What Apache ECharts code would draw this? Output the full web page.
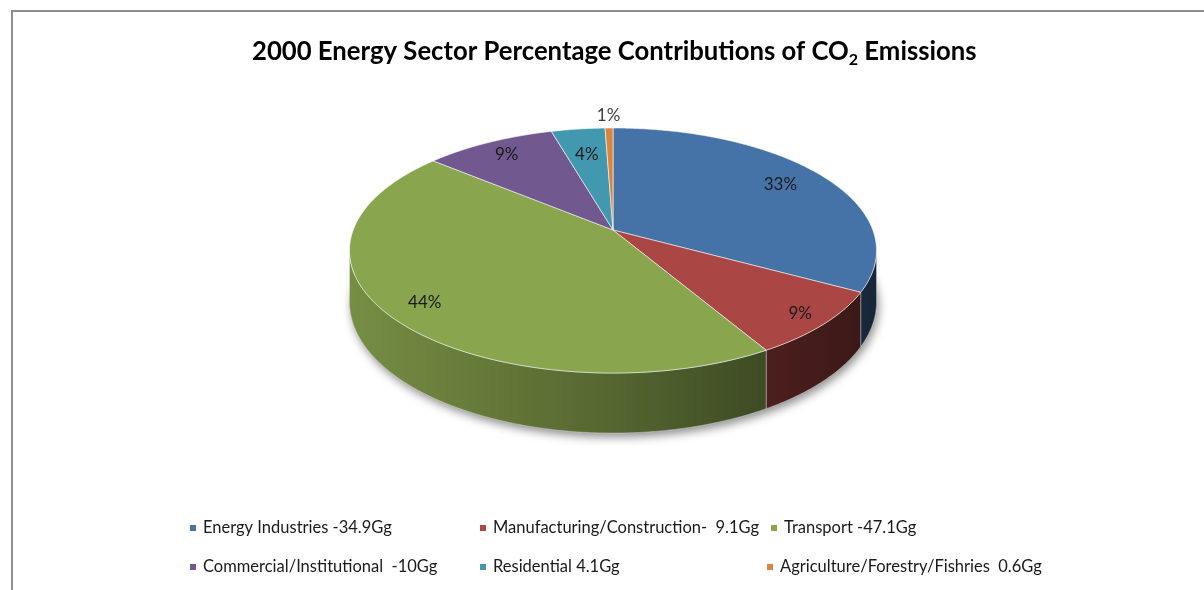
<!DOCTYPE html>
<html><head><meta charset="utf-8">
<script src="https://cdn.jsdelivr.net/npm/echarts@6/dist/echarts.min.js"></script>
<style>html,body{margin:0;padding:0;background:#fff}#c{width:1204px;height:590px}</style>
</head><body><div id="c"></div>
<script>
// ---- data ----
const categories = ['Energy Industries','Manufacturing/Construction','Transport','Commercial/Institutional','Residential','Agriculture/Forestry/Fishries'];
const valuesGg = [34.9, 9.1, 47.1, 10, 4.1, 0.6];
const percentLabels = ['33%','9%','44%','9%','4%','1%'];
const legendLabels = ['Energy Industries -34.9Gg','Manufacturing/Construction-  9.1Gg','Transport -47.1Gg','Commercial/Institutional  -10Gg','Residential 4.1Gg','Agriculture/Forestry/Fishries  0.6Gg'];
const colors = ['#4572A7','#AA4643','#89A54E','#71588F','#4198AF','#DB843D'];

// ---- layout ----
const FONT = 'Lato, "Open Sans", sans-serif';
const G = {cx:613, cy:230, A:259.8, B:119.1, k:0.1674, H:50};
const legendPos = [[190,518],[480,518],[771,518],[190,557],[480,557],[767,557]];
const labelRadius = [0.8, 0.9, 0.86, 0.84, 0.72, 1.15];
const total = valuesGg.reduce((a,b)=>a+b,0);

function proj(r, deg){
  const t = deg*Math.PI/180;
  const u = r*Math.sin(t), v = r*Math.cos(t);
  const d = 1 + G.k*v;
  return [G.cx + G.A*u/d, G.cy - G.B*v/d, 1/d];
}
function arc(a,b,bottom){
  const pts=[]; const n=Math.max(2,Math.ceil(Math.abs(b-a)/0.5));
  for(let i=0;i<=n;i++){const d=a+(b-a)*i/n; const p=proj(1,d); pts.push(bottom?[p[0],p[1]+G.H*p[2]]:[p[0],p[1]]);}
  return pts;
}
function shade(hex,f){
  const n=parseInt(hex.slice(1),16); const r=(n>>16)&255,g=(n>>8)&255,b=n&255;
  return 'rgb('+Math.round(r*f)+','+Math.round(g*f)+','+Math.round(b*f)+')';
}
const thL = Math.acos(-G.k)*180/Math.PI, thR = 360-thL;

function makeRender(i){
  return function(params, api){
    const v = api.value(0);
    let start=0; for(let j=0;j<i;j++) start+=valuesGg[j];
    const a0=start/total*360, a1=(start+v)/total*360;
    const children=[];
    if(i===0){
      const bot = arc(0,360,true);
      children.push({type:'polygon', z2:0, silent:true, shape:{points:bot},
        style:{fill:'#888', shadowColor:'rgba(0,0,0,0.45)', shadowBlur:10, shadowOffsetX:2, shadowOffsetY:4}});
    }
    const a=Math.max(a0,thL), b=Math.min(a1,thR);
    if(a<b){
      const pts = arc(a,b,false).concat(arc(a,b,true).reverse());
      children.push({type:'polygon', z2:1, shape:{points:pts},
        style:{fill:new echarts.graphic.LinearGradient(G.cx-G.A-5,0,G.cx+G.A+5,0,[
          {offset:0,color:shade(colors[i],0.86)},{offset:0.5,color:shade(colors[i],0.62)},{offset:1,color:shade(colors[i],0.33)}],true),
          stroke:'rgba(255,255,255,0.35)', lineWidth:1}});
    }
    const top=[[G.cx,G.cy]].concat(arc(a0,a1,false));
    children.push({type:'polygon', z2:2, shape:{points:top},
      style:{fill:colors[i], stroke:'rgba(255,255,255,0.6)', lineWidth:1}});
    const mid=(a0+a1)/2; const frac=v/total;
    const lp = proj(labelRadius[i], mid);
    children.push({type:'text', z2:3, silent:true, style:{text:percentLabels[i], x:lp[0], y:lp[1],
      fill: frac<0.02?'#404040':'#1a1a1a', font:'17px '+FONT, align:'center', verticalAlign:'middle'}});
    return {type:'group', children};
  };
}

const series = categories.map((c,i)=>({
  type:'custom', name:legendLabels[i], coordinateSystem:'none',
  data:[valuesGg[i]], itemStyle:{color:colors[i]},
  renderItem:makeRender(i), animation:false
}));
const legends = legendLabels.map((l,i)=>({
  data:[l], left:legendPos[i][0], top:legendPos[i][1], padding:0, icon:'rect',
  itemWidth:6, itemHeight:6, selectedMode:false,
  textStyle:{fontFamily:FONT, fontSize:16.5, lineHeight:20, color:'#1a1a1a', padding:[0,0,0,2]}
}));

const chart = echarts.init(document.getElementById('c'), null, {renderer:'canvas'});
chart.setOption({
  backgroundColor:'#fff',
  animation:false,
  title:{left:252, top:36, padding:0, text:'{t|2000 Energy Sector Percentage Contributions of CO}{s|2}{t| Emissions}',
    textStyle:{rich:{
      t:{fontFamily:FONT, fontWeight:'bold', fontSize:25.7, color:'#000', lineHeight:32},
      s:{fontFamily:FONT, fontWeight:'bold', fontSize:16, color:'#000', lineHeight:32, padding:[15,0,0,0]}
    }}},
  legend:legends,
  graphic:[{type:'polyline', silent:true, shape:{points:[[12,592],[12,11],[1206,11]]}, style:{stroke:'#8e8e8e', lineWidth:2, fill:null}}],
  series
});
</script></body></html>
